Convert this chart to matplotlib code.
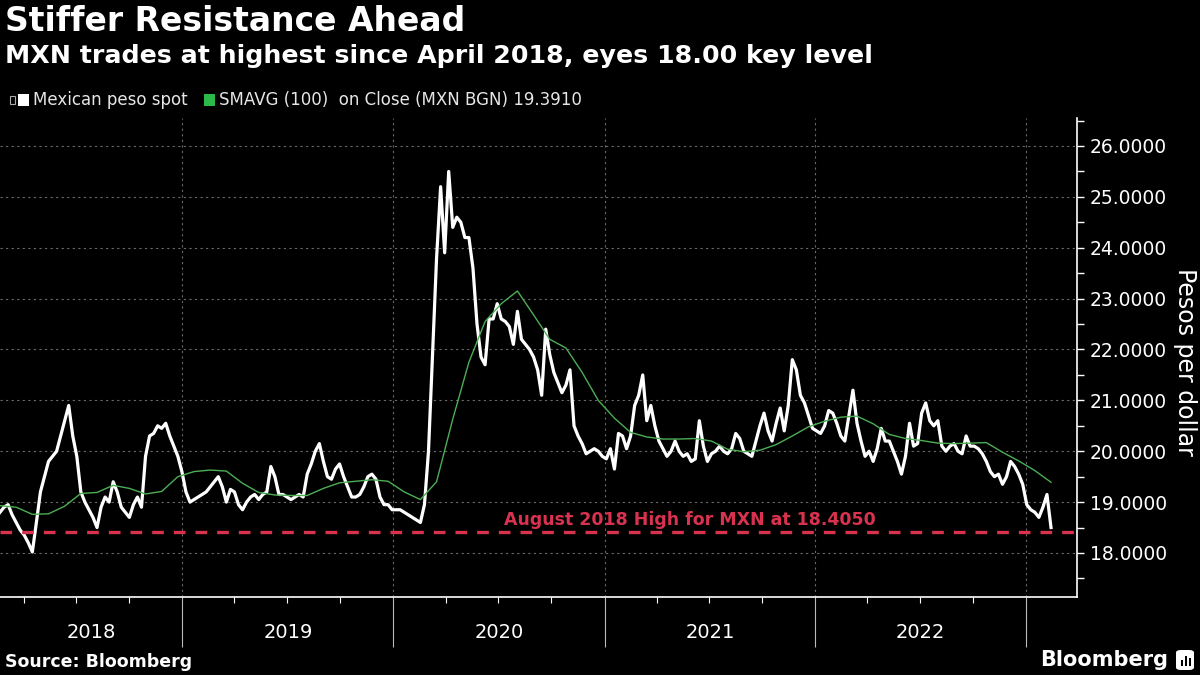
import matplotlib
matplotlib.use('Agg')
import matplotlib.pyplot as plt
import matplotlib.dates as mdates
from matplotlib.patches import Rectangle, FancyBboxPatch
from matplotlib.ticker import MultipleLocator, FuncFormatter, NullFormatter
import matplotlib.transforms as mtransforms
import pandas as pd

# weekly USD/MXN readings, week of 2018-02-19 to week of 2023-02-13
spot_2018 = [18.8, 18.9, 18.95, 18.75, 18.6, 18.45, 18.35, 18.2, 18.02, 18.6,
             19.2, 19.5, 19.8, 19.9, 20.0, 20.3, 20.6, 20.9, 20.3, 19.9,
             19.2, 19.0, 18.85, 18.7, 18.5, 18.9, 19.1, 19.0, 19.4, 19.2,
             18.9, 18.8, 18.7, 18.95, 19.1, 18.9, 19.9, 20.3, 20.35, 20.5,
             20.45, 20.55, 20.3, 20.1, 19.9, 19.6]
spot_2019 = [19.2, 19.0, 19.05, 19.1, 19.15, 19.2, 19.3, 19.4, 19.5, 19.3,
             19.0, 19.25, 19.2, 18.95, 18.85, 19.0, 19.1, 19.15, 19.05, 19.15,
             19.2, 19.7, 19.5, 19.15, 19.15, 19.1, 19.05, 19.1, 19.15, 19.1,
             19.55, 19.75, 20.0, 20.15, 19.8, 19.5, 19.45, 19.65, 19.75, 19.5,
             19.3, 19.1, 19.1, 19.15, 19.3, 19.5, 19.55, 19.45, 19.1, 18.95,
             18.95, 18.85]
spot_2020 = [18.85, 18.85, 18.8, 18.75, 18.7, 18.65, 18.6, 18.95, 20.0, 21.9,
             23.8, 25.2, 23.9, 25.5, 24.4, 24.6, 24.5, 24.2, 24.2, 23.6,
             22.5, 21.85, 21.7, 22.6, 22.6, 22.9, 22.6, 22.55, 22.45, 22.1,
             22.75, 22.2, 22.1, 22.0, 21.85, 21.6, 21.1, 22.4, 21.9, 21.55,
             21.35, 21.15, 21.3, 21.6, 20.5, 20.3, 20.15, 19.95, 20.0, 20.05,
             20.0, 19.9]
spot_2021 = [19.85, 20.05, 19.65, 20.35, 20.3, 20.05, 20.3, 20.9, 21.1, 21.5,
             20.6, 20.9, 20.5, 20.2, 20.05, 19.9, 20.0, 20.2, 20.0, 19.9,
             19.95, 19.8, 19.85, 20.6, 20.1, 19.8, 19.95, 20.0, 20.1, 20.0,
             19.95, 20.05, 20.35, 20.25, 20.0, 19.95, 19.9, 20.2, 20.5, 20.75,
             20.4, 20.2, 20.55, 20.85, 20.4, 20.9, 21.8, 21.6, 21.1, 20.95,
             20.7, 20.45]
spot_2022_23 = [20.4, 20.35, 20.5, 20.8, 20.75, 20.55, 20.3, 20.2, 20.7, 21.2,
                20.55, 20.2, 19.9, 20.0, 19.8, 20.05, 20.45, 20.2, 20.2, 20.0,
                19.8, 19.55, 19.9, 20.55, 20.1, 20.15, 20.75, 20.95, 20.6, 20.5,
                20.6, 20.1, 20.0, 20.1, 20.15, 20.0, 19.95, 20.3, 20.1, 20.1,
                20.05, 19.95, 19.8, 19.6, 19.5, 19.55, 19.35, 19.5, 19.8, 19.7,
                19.55, 19.35, 18.95, 18.85, 18.8, 18.7, 18.9, 19.15, 18.5]

# 100-day moving average, read every 4 weeks
sma = [18.93, 18.9, 18.76, 18.77, 18.92, 19.17, 19.19, 19.33, 19.27, 19.16,
       19.21, 19.5, 19.6, 19.63, 19.61, 19.37, 19.19, 19.14, 19.13, 19.13,
       19.27, 19.38, 19.41, 19.44, 19.41, 19.2, 19.05, 19.4, 20.63, 21.75,
       22.55, 22.9, 23.15, 22.68, 22.2, 22.03, 21.55, 21.0, 20.65, 20.37,
       20.28, 20.24, 20.24, 20.25, 20.2, 20.04, 19.99, 20.02, 20.13, 20.3,
       20.48, 20.59, 20.67, 20.69, 20.54, 20.33, 20.25, 20.21, 20.16, 20.15,
       20.16, 20.17, 19.98, 19.81, 19.62, 19.39]

years = [2018, 2019, 2020, 2021, 2022]
aug_2018_high = 18.405

spot = spot_2018 + spot_2019 + spot_2020 + spot_2021 + spot_2022_23
weeks = pd.date_range('2018-02-19', periods=len(spot), freq='7D')
sma_dates = weeks[::4]

red = '#d8324f'
fig = plt.figure(figsize=(12, 6.75), dpi=100, facecolor='black')
ax = fig.add_axes([0, 1 - 597 / 675, 1077 / 1200, (597 - 118) / 675])
ax.set_facecolor('black')

ax.plot(weeks, spot, color='white', lw=2.3, zorder=3)
ax.plot(sma_dates, sma, color='#4cae55', lw=1.0, zorder=4)
ax.axhline(aug_2018_high, color=red, lw=2.4, ls=(0, (3.5, 3)), zorder=5)

x0, x1 = pd.Timestamp('2018-02-19'), pd.Timestamp('2023-03-30')
ax.set_xlim(x0, x1)
ax.set_ylim(17.135, 26.55)

ax.text(690 / 1077, aug_2018_high + 0.06, 'August 2018 High for MXN at 18.4050',
        transform=mtransforms.blended_transform_factory(ax.transAxes, ax.transData),
        color=red, fontsize=12.5, fontweight='bold', ha='center', va='bottom', zorder=6)

# y axis on the right
ax.yaxis.tick_right()
ax.yaxis.set_major_locator(MultipleLocator(1))
ax.yaxis.set_minor_locator(MultipleLocator(0.5))
ax.yaxis.set_major_formatter(FuncFormatter(lambda v, p: f'{v:.4f}'))
ax.tick_params(axis='y', which='both', colors='white', direction='out',
               length=5, width=1, labelsize=13.5, pad=4)

# x axis: year separators and quarter ticks
ax.xaxis.set_major_locator(mdates.YearLocator())
ax.xaxis.set_minor_locator(mdates.MonthLocator(bymonth=[1, 4, 7, 10]))
ax.xaxis.set_major_formatter(NullFormatter())
ax.tick_params(axis='x', which='major', colors='#bbbbbb', length=36, width=0.8)
ax.tick_params(axis='x', which='minor', colors='white', length=4, width=0.8)

ax.grid(True, which='major', color='#6a6a6a', lw=0.8, ls=(0, (2, 3)))

for s in ['left', 'top']:
    ax.spines[s].set_visible(False)
for s in ['right', 'bottom']:
    ax.spines[s].set_color('white')
    ax.spines[s].set_linewidth(1.2)

xtr = mtransforms.blended_transform_factory(ax.transData, ax.transAxes)
for yr in years:
    a = max(pd.Timestamp(f'{yr}-01-01'), x0)
    b = pd.Timestamp(f'{yr + 1}-01-01')
    mid = a + (b - a) / 2
    ax.text(mdates.date2num(mid), -0.075, str(yr), transform=xtr, color='white',
            fontsize=14, ha='center', va='center', clip_on=False)

fig.text(1185 / 1200, 1 - 362 / 675, 'Pesos per dollar', rotation=270,
         color='white', fontsize=17, ha='center', va='center')

# titles
fig.text(0.004, 1 - 5 / 675, 'Stiffer Resistance Ahead', color='white',
         fontsize=23.8, fontweight='bold', ha='left', va='top')
fig.text(0.004, 1 - 44 / 675, 'MXN trades at highest since April 2018, eyes 18.00 key level',
         color='white', fontsize=18.2, fontweight='bold', ha='left', va='top')

# legend
ly = 1 - 100 / 675
fig.patches.append(Rectangle((10 / 1200, ly - 4 / 675), 5 / 1200, 8 / 675, transform=fig.transFigure,
                             facecolor='none', edgecolor='#aaaaaa', lw=0.8))
fig.patches.append(Rectangle((18 / 1200, ly - 6 / 675), 11 / 1200, 12 / 675, transform=fig.transFigure,
                             facecolor='white', edgecolor='none'))
fig.text(33 / 1200, ly, 'Mexican peso spot', color='#e6e6e6', fontsize=12, ha='left', va='center')
fig.patches.append(Rectangle((204 / 1200, ly - 6 / 675), 11 / 1200, 12 / 675, transform=fig.transFigure,
                             facecolor='#2db84a', edgecolor='none'))
fig.text(219 / 1200, ly, 'SMAVG (100)  on Close (MXN BGN) 19.3910', color='#e6e6e6',
         fontsize=12, ha='left', va='center')

# footer
fig.text(5 / 1200, 1 - 662 / 675, 'Source: Bloomberg', color='white', fontsize=12.5,
         fontweight='bold', ha='left', va='center')
fig.text(1168 / 1200, 1 - 660 / 675, 'Bloomberg', color='white', fontsize=15,
         fontweight='bold', ha='right', va='center')
fig.patches.append(FancyBboxPatch((1176 / 1200, 1 - 670 / 675), 18 / 1200, 20 / 675,
                                  boxstyle='round,pad=0,rounding_size=0.004',
                                  transform=fig.transFigure, facecolor='white', edgecolor='none'))
for bx, bh in [(1181, 6), (1185, 10), (1189, 8)]:
    fig.patches.append(Rectangle((bx / 1200, 1 - 666 / 675), 2 / 1200, bh / 675,
                                 transform=fig.transFigure, facecolor='black', edgecolor='none'))

fig.savefig('out.png', dpi=100, facecolor='black')
